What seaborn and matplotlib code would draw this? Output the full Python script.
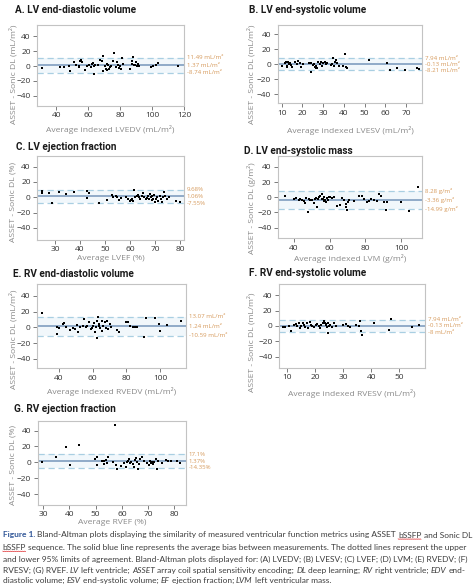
"""Bland-Altman panels, ASSET vs Sonic DL"""
import matplotlib
matplotlib.use("Agg")
import matplotlib.pyplot as plt
import numpy as np
import pandas as pd
import seaborn as sns

W, H = 474, 587

# ---- data ----
lvedv_avg = [31.1, 42.7, 45.0, 48.3, 48.9, 51.4, 52.4, 54.1, 55.1, 55.5, 56.0, 54.5, 58.2, 59.3,
             60.7, 61.8, 62.4, 62.8, 63.4, 63.8, 64.5, 66.3, 67.6, 68.4, 69.2, 69.6, 70.3, 71.1,
             71.5, 72.1, 72.5, 73.2, 73.8, 74.6, 75.6, 76.3, 77.3, 77.9, 78.8, 79.4, 79.8, 80.6,
             81.5, 81.9, 86.0, 87.3, 87.7, 88.3, 88.7, 89.3, 89.7, 90.6, 91.2, 91.8, 99.1, 100.5,
             102.2, 103.8, 116.3]
lvedv_diff = [-2.7, -1.8, -1.3, -0.4, -7.1, 4.9, 1.8, -0.4, 6.7, 8.4, 4.9, -1.3, -4.9, -0.4,
              0.9, -1.3, 2.7, 4.0, -10.2, 0.4, 1.8, 0.9, 7.6, 6.2, 13.8, -6.7, -0.4, -3.6,
              3.1, -5.8, 1.8, -4.0, -1.3, 0.4, 6.2, 17.8, -1.3, 5.3, 1.8, -3.1, 0.4, -3.6,
              10.7, 3.1, -4.4, 6.2, 2.7, 12.0, 1.3, 0.9, 4.9, -0.4, 3.1, 0.4, -1.3, 0.4,
              1.8, 4.0, -0.4]

lvesv_avg = [10.3, 11.4, 11.9, 12.4, 12.7, 13.2, 13.5, 14.0, 14.3, 15.1, 16.3, 17.2, 18.0, 18.8,
             19.1, 20.1, 23.2, 24.0, 24.3, 25.0, 25.6, 26.1, 26.4, 26.7, 27.2, 27.7, 28.5, 29.1,
             29.6, 30.1, 30.7, 31.3, 32.0, 33.6, 34.4, 34.7, 35.2, 35.7, 36.3, 36.8, 37.6, 39.7,
             40.3, 41.0, 41.5, 52.1, 60.9, 62.2, 65.7, 69.7, 75.3, 76.1]
lvesv_diff = [-2.2, 1.3, 3.6, -1.8, -3.1, 2.7, 0.4, 1.8, -1.3, -3.1, 2.7, 0.4, 4.4, 2.2,
              -3.1, 0.0, 1.3, 2.2, -9.8, -0.9, 0.0, -3.1, -4.4, -2.2, -5.3, 2.7, 0.4, 3.6,
              -1.8, 1.8, 3.1, 0.0, 2.2, -1.3, 0.4, 8.0, -1.8, 3.6, 5.3, 1.3, -2.2, -2.2,
              14.2, -3.6, -4.9, 6.2, 1.8, -8.0, -5.3, -7.1, -4.4, -6.2]

lvef_avg = [24.7, 24.8, 27.7, 28.9, 31.7, 34.3, 37.7, 42.6, 42.9, 43.6, 47.4, 50.9, 52.6, 53.3,
            54.4, 54.9, 55.7, 56.2, 58.3, 59.2, 59.9, 60.3, 60.7, 61.3, 61.7, 62.1, 62.6, 63.1,
            63.5, 63.9, 64.6, 65.2, 65.6, 66.2, 66.6, 67.2, 67.6, 68.0, 68.3, 68.7, 68.9, 69.2,
            69.6, 70.0, 70.2, 70.8, 71.3, 71.9, 72.4, 72.8, 73.2, 73.6, 74.1, 74.9, 75.6, 78.5,
            79.9]
lvef_diff = [8.4, 5.3, 6.2, -7.1, 6.7, 4.4, 6.7, -1.3, 7.6, 5.3, -8.0, -3.6, 2.7, 0.0,
             1.8, 0.0, -3.1, -1.3, 0.9, -2.7, -4.4, -3.6, -2.2, -4.4, 9.8, 0.0, 1.8, 3.1,
             0.0, -1.8, 2.2, 5.3, 0.0, -2.7, -1.3, 2.2, -1.8, 4.4, 0.0, -3.6, 1.8, -1.8,
             3.1, -6.7, -2.7, 0.0, -4.4, 1.8, -2.7, -6.2, 0.0, 6.7, 2.2, -1.8, 0.9, -4.4,
             -6.7]

lvm_avg = [35.0, 40.0, 41.5, 42.8, 43.7, 44.7, 45.6, 46.5, 47.1, 48.0, 48.4, 49.3, 50.3, 51.2,
           51.7, 52.5, 53.0, 53.6, 54.2, 54.9, 55.5, 55.8, 56.4, 56.8, 57.1, 57.7, 58.1, 58.6,
           59.0, 59.6, 60.5, 61.4, 62.6, 63.9, 66.1, 67.2, 68.3, 69.1, 69.4, 69.8, 70.2, 70.8,
           73.6, 76.4, 78.3, 79.1, 81.0, 81.9, 83.4, 84.7, 86.6, 87.5, 88.8, 90.3, 91.6, 92.2,
           100.2, 104.3, 109.3]
lvm_diff = [1.3, -2.2, -0.9, -3.1, -1.8, -3.6, -4.4, -7.6, -0.9, -20.0, -2.2, -3.6, -3.1, -7.6,
            -2.7, -0.9, -12.4, -2.7, 0.9, 2.2, -2.7, 4.4, -1.8, 0.9, -5.3, -3.1, -6.2, -1.3,
            -3.6, 0.0, 0.0, -1.3, 0.0, -12.0, -9.8, -1.3, -3.1, -8.9, -12.4, -16.9, -5.8, -3.1,
            -4.4, 1.3, 2.2, -2.7, -5.8, -4.4, -2.2, -3.1, -5.3, 4.4, 1.3, -5.8, -16.4, -6.7,
            -5.8, -18.7, 12.9]

rvedv_avg = [30.1, 38.6, 39.0, 40.2, 42.2, 43.2, 44.0, 46.5, 48.5, 49.5, 50.5, 51.1, 52.5, 54.5,
             55.0, 56.0, 56.8, 58.0, 58.8, 59.6, 60.4, 61.0, 61.4, 62.0, 62.4, 62.8, 63.2, 63.6,
             64.0, 64.4, 65.3, 65.7, 66.3, 67.1, 67.7, 68.3, 69.3, 70.3, 70.9, 74.3, 75.8, 79.8,
             80.8, 82.2, 83.8, 85.1, 86.5, 90.7, 91.5, 97.2, 99.2, 100.0, 104.4, 112.3]
rvedv_diff = [17.9, -8.5, 0.9, -0.9, 4.3, 5.5, 0.9, -3.4, -0.9, -2.1, 3.4, -6.4, 0.9, 2.1,
              10.6, 0.9, 1.3, 7.2, -2.1, -0.9, 2.1, 5.1, -5.5, 0.0, -13.6, 8.5, 13.6, 1.3,
              4.3, -1.3, 8.5, -4.3, 2.1, 6.4, -0.9, 8.5, -2.1, 4.3, 0.9, -3.4, -5.5, 7.2,
              7.2, 2.1, 0.9, 0.0, 0.9, -12.8, 11.5, 11.9, 4.3, -4.3, 3.4, 8.5]

rvesv_avg = [8.6, 9.4, 10.6, 11.4, 12.4, 13.0, 13.6, 14.2, 14.5, 15.0, 15.5, 15.9, 16.5, 17.1,
             17.5, 18.1, 18.5, 19.0, 19.7, 20.2, 20.7, 21.3, 21.9, 22.2, 22.8, 23.1, 23.4, 23.7,
             24.0, 24.2, 24.5, 24.7, 25.1, 25.4, 26.0, 26.8, 27.6, 29.9, 31.1, 31.7, 32.6, 34.7,
             35.5, 35.9, 36.4, 36.7, 41.1, 46.2, 47.0, 54.7, 57.1]
rvesv_diff = [-0.9, -0.9, 0.0, -6.1, 0.9, 2.2, 0.0, 3.5, -3.0, 0.0, 4.3, 1.3, -0.9, 3.5,
              -3.0, 5.2, 1.3, 0.0, -1.7, 1.3, 2.6, 0.0, -3.0, 1.3, 3.5, 6.5, 4.3, 0.9,
              2.2, -1.7, 3.5, -9.6, 0.0, 1.3, -1.7, 3.5, 0.0, 0.9, 2.2, 0.4, -0.9, 0.9,
              0.0, 6.1, -6.1, -11.7, 3.5, -5.2, 8.7, -0.9, 0.9]

rvef_avg = [29.6, 34.8, 38.7, 40.2, 43.5, 49.8, 50.4, 50.7, 52.3, 53.0, 53.3, 54.0, 54.5, 54.8,
            56.8, 57.4, 57.8, 58.0, 59.6, 60.9, 61.6, 62.1, 62.5, 62.9, 63.2, 63.5, 64.1, 64.7,
            65.1, 65.3, 65.7, 66.1, 66.5, 67.0, 67.6, 68.3, 69.5, 70.2, 70.8, 71.1, 71.5, 71.8,
            72.3, 72.9, 73.4, 73.8, 75.3, 76.7, 77.8, 78.7, 81.0, 82.3]
rvef_diff = [0.0, 7.2, 19.1, -3.8, 21.7, 4.3, 7.2, -3.4, 2.1, -2.1, 1.3, 3.0, -1.3, 6.4,
             0.0, 46.8, -3.0, -7.7, -5.1, -1.3, -6.4, 0.0, 2.1, 4.3, -1.3, 0.9, -2.1, -6.4,
             3.4, 6.0, 0.0, -8.5, -2.1, 4.3, 7.2, 2.1, -1.3, -3.4, 2.1, -1.3, 0.9, -2.1,
             0.0, 4.3, -7.7, 2.1, -1.3, 3.0, 2.1, 2.1, 2.1, -0.9]

# upper limit, bias, lower limit (as drawn)
loa_lines = [
    [11.49, 1.37, -8.74],
    [7.94, -0.13, -8.21],
    [9.68, 1.06, -7.55],
    [8.28, -3.36, -14.99],
    [13.07, 1.24, -10.59],
    [7.94, -0.13, -8.0],
    [10.0, 1.37, -7.0],
]
loa_labels = [
    ["11.49 mL/m\u00b2", "1.37 mL/m\u00b2", "-8.74 mL/m\u00b2"],
    ["7.94 mL/m\u00b2", "-0.13 mL/m\u00b2", "-8.21 mL/m\u00b2"],
    ["9.68%", "1.06%", "-7.55%"],
    ["8.28 g/m\u00b2", "-3.36 g/m\u00b2", "-14.99 g/m\u00b2"],
    ["13.07 mL/m\u00b2", "1.24 mL/m\u00b2", "-10.59 mL/m\u00b2"],
    ["7.94 mL/m\u00b2", "-0.13 mL/m\u00b2", "-8 mL/m\u00b2"],
    ["17.1%", "1.37%", "-14.35%"],
]
titles = ["A. LV end-diastolic volume", "B. LV end-systolic volume", "C. LV ejection fraction",
          "D. LV end-systolic mass", "E. RV end-diastolic volume", "F. RV end-systolic volume",
          "G. RV ejection fraction"]
xlabels = ["Average indexed LVEDV (mL/m\u00b2)", "Average indexed LVESV (mL/m\u00b2)",
           "Average LVEF (%)", "Average indexed LVM (g/m\u00b2)",
           "Average indexed RVEDV (mL/m\u00b2)", "Average indexed RVESV (mL/m\u00b2)",
           "Average RVEF (%)"]
ylabels = ["ASSET - Sonic DL (mL/m\u00b2)", "ASSET - Sonic DL (mL/m\u00b2)", "ASSET - Sonic DL (%)",
           "ASSET - Sonic DL (g/m\u00b2)", "ASSET - Sonic DL (mL/m\u00b2)",
           "ASSET - Sonic DL (mL/m\u00b2)", "ASSET - Sonic DL (%)"]
xticks = [[40, 60, 80, 100, 120], [10, 20, 30, 40, 50, 60, 70], [30, 40, 50, 60, 70, 80],
          [40, 60, 80, 100], [40, 60, 80, 100], [10, 20, 30, 40, 50], [30, 40, 50, 60, 70, 80]]
yticks = [-40, -20, 0, 20, 40]
xlims = [(28, 120), (8, 77.8), (22.8, 81.5), (31, 111.7), (26.8, 115.4), (7, 59.3), (27.8, 84.5)]
ylims = [(-54, 55.5), (-52, 52.4), (-56, 54.4), (-54, 54.7), (-52, 54.5), (-54.5, 54.2), (-53.5, 52)]

series = [(lvedv_avg, lvedv_diff), (lvesv_avg, lvesv_diff), (lvef_avg, lvef_diff),
          (lvm_avg, lvm_diff), (rvedv_avg, rvedv_diff), (rvesv_avg, rvesv_diff),
          (rvef_avg, rvef_diff)]

# ---- layout (pixels: left, right, top, bottom) ----
boxes = [(37, 184, 25, 106), (277.5, 422.3, 25, 103.3), (37, 184, 155.7, 240),
         (277.7, 422, 155.7, 238.3), (36.7, 186, 284.3, 368.3), (278.7, 425.3, 284.3, 367.7),
         (37.5, 186, 421, 505)]
title_pos = [(15, 10), (249, 10), (16, 146.7), (243.7, 150.7), (13.3, 274.3), (248.7, 273.3), (14, 409)]
ylabel_pos = [(13.5, 74.5), (251, 74), (13.5, 201.7), (251, 208.5), (13, 339), (251, 342.5), (13, 465)]
xlabel_y = [130, 130.7, 258, 258.3, 391.7, 393, 522]

ORANGE = "#d69a5c"
BIAS = "#7f9dc0"
DASH = "#a9cfe2"
FILL = "#f1f7fb"
GREY = "#8a8a8a"

sns.set_style("ticks")
plt.rcParams["font.family"] = ["Open Sans", "DejaVu Sans"]


def fx(x):
    return x / W


def fy(y):
    return 1 - y / H


fig = plt.figure(figsize=(W / 100, H / 100), dpi=100)

for i, (xs, ys) in enumerate(series):
    l, r, t, b = boxes[i]
    ax = fig.add_axes([fx(l), fy(b), (r - l) / W, (b - t) / H])
    up, bias, low = loa_lines[i]
    df = pd.DataFrame({"avg": xs, "diff": ys})

    ax.axhspan(low, up, color=FILL, lw=0, zorder=0)
    ax.axhline(up, color=DASH, lw=0.9, ls=(0, (5, 3)), zorder=1)
    ax.axhline(low, color=DASH, lw=0.9, ls=(0, (5, 3)), zorder=1)
    ax.axhline(bias, color=BIAS, lw=1.2, zorder=2)
    sns.scatterplot(data=df, x="avg", y="diff", marker="s", s=2.6, color="black",
                    linewidth=0, ax=ax, zorder=3)

    ax.set_xlim(*xlims[i])
    ax.set_ylim(*ylims[i])
    ax.set_xticks(xticks[i])
    ax.set_yticks(yticks)
    ax.tick_params(length=3, width=0.6, color="#666666", labelsize=6,
                   labelcolor="#333333", pad=1.5)
    for sp in ax.spines.values():
        sp.set_visible(True)
        sp.set_color("#c3c3c3")
        sp.set_linewidth(0.8)

    for val, txt in zip(loa_lines[i], loa_labels[i]):
        ax.annotate(txt, xy=(1, val), xycoords=("axes fraction", "data"),
                    xytext=(2, 0), textcoords="offset points", va="center", ha="left",
                    fontsize=4.4, color=ORANGE, annotation_clip=False)

    ax.set_xlabel("")
    ax.set_ylabel("")
    fig.text(fx((l + r) / 2), fy(xlabel_y[i]), xlabels[i], ha="center", va="center",
             fontsize=6.1, color=GREY)
    yx, yy = ylabel_pos[i]
    fig.text(fx(yx), fy(yy), ylabels[i], ha="center", va="center", rotation=90,
             fontsize=6.1, color=GREY)
    tx, ty = title_pos[i]
    fig.text(fx(tx), fy(ty), titles[i], ha="left", va="center", fontsize=7.2,
             fontweight="bold", family="Roboto", color="#1a1a1a")

# ---- caption ----
caption = [
    [("Figure 1.", "fig"), (" Bland-Altman plots displaying the similarity of measured ventricular "
                            "function metrics using ASSET ", "n"), ("bSSFP", "wavy"),
     (" and Sonic DL", "n")],
    [("bSSFP", "wavy"), (" sequence. The solid blue line represents the average bias between "
                         "measurements. The dotted lines represent the upper", "n")],
    [("and lower 95% limits of agreement. Bland-Altman plots displayed for: (A) LVEDV; (B) LVESV; "
      "(C) LVEF; (D) LVM; (E) RVEDV; (F)", "n")],
    [("RVESV; (G) RVEF. ", "n"), ("LV", "i"), (" left ventricle; ", "n"), ("ASSET", "i"),
     (" array coil spatial sensitivity encoding; ", "n"), ("DL", "i"), (" deep learning; ", "n"),
     ("RV", "i"), (" right ventricle; ", "n"), ("EDV", "i"), (" end-", "n")],
    [("diastolic volume; ", "n"), ("ESV", "i"), (" end-systolic volume; ", "n"), ("EF", "i"),
     (" ejection fraction; ", "n"), ("LVM", "i"), (" left ventricular mass.", "n")],
]
cap_y = [535, 547.3, 559, 570.3, 580.3]
CAP_FS = 6.0
CAP_FONT = "Lato"

renderer = fig.canvas.get_renderer()
probe = fig.text(0, 0, "x x", fontsize=CAP_FS, family=CAP_FONT)
w2 = probe.get_window_extent(renderer).width
probe.set_text("xx")
space_w = w2 - probe.get_window_extent(renderer).width
probe.remove()

for segs, y in zip(caption, cap_y):
    x = 2.7
    for s, style in segs:
        lead = len(s) - len(s.lstrip(" "))
        trail = len(s) - len(s.rstrip(" "))
        x += lead * space_w
        kw = dict(fontsize=CAP_FS, family=CAP_FONT, color="#3d3d3d", va="center", ha="left")
        if style == "fig":
            kw.update(color="#2f5597", fontweight="bold")
        elif style == "i":
            kw.update(style="italic")
        t = fig.text(fx(x), fy(y), s.strip(" "), **kw)
        w = t.get_window_extent(renderer).width
        if style == "wavy":
            zx = np.arange(x, x + w + 0.1, 1.0)
            zy = y + 3.8 + 0.6 * (np.arange(len(zx)) % 2)
            fig.add_artist(plt.Line2D(fx(zx), fy(zy), color="#e0383b", lw=0.5))
        x += w + trail * space_w

fig.savefig("out.png", dpi=100)
